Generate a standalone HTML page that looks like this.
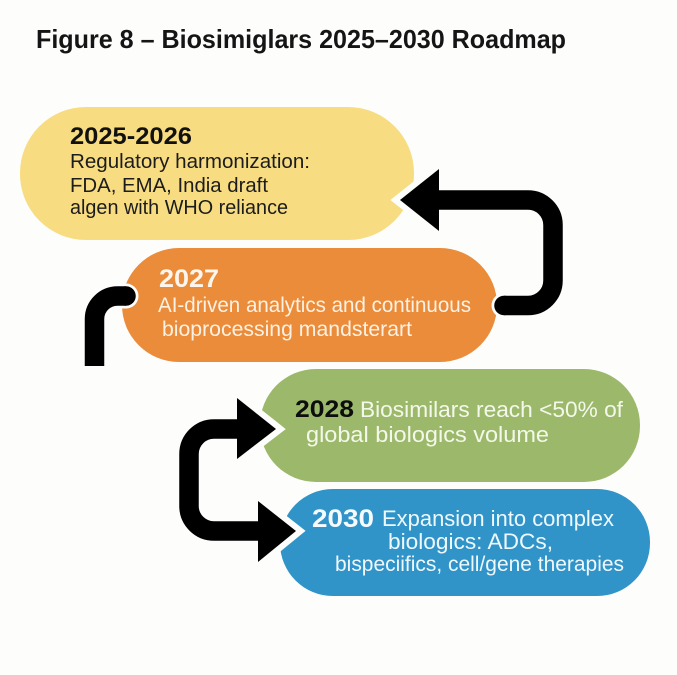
<!DOCTYPE html>
<html>
<head>
<meta charset="utf-8">
<style>
html,body{margin:0;padding:0;background:#fdfdfc;}
svg{display:block;}
text{font-family:"Liberation Sans",sans-serif;}
</style>
</head>
<body>
<svg width="677" height="675" viewBox="0 0 677 675" xmlns="http://www.w3.org/2000/svg">
<rect width="677" height="675" fill="#fdfdfc"/>
<text x="36" y="48" font-size="26" font-weight="700" fill="#151515" textLength="530" lengthAdjust="spacingAndGlyphs">Figure 8 – Biosimiglars 2025–2030 Roadmap</text>

<rect x="20" y="107" width="394" height="133" rx="66" fill="#f7dc82"/>
<rect x="122" y="248" width="375" height="114" rx="57" fill="#ea8c3a"/>
<rect x="260" y="369" width="380" height="113" rx="56" fill="#9cb96b"/>
<rect x="280" y="489" width="370" height="107" rx="53" fill="#3194c8"/>

<!-- halos -->
<g fill="none" stroke="#fdfdfc" stroke-width="25" stroke-linejoin="round">
  <path d="M504 305.500H528A25 25 0 0 0 553 280.500V225A25 25 0 0 0 528 200H430" stroke-linecap="round"/>
  <path d="M94.500 366V319A23 23 0 0 1 117.500 296H126" stroke-linecap="round"/>
  <path d="M240 429H214A25 25 0 0 0 189 454V506A25 25 0 0 0 214 531H262"/>
</g>
<g fill="#fdfdfc" stroke="#fdfdfc" stroke-width="12" stroke-linejoin="miter">
  <path d="M400 200L439 169V231Z"/>
  <path d="M276 429L237 398V459Z"/>
  <path d="M296 531L258 501V562Z"/>
</g>

<!-- connectors -->
<g fill="none" stroke="#000" stroke-width="19.500">
  <path d="M504 305.500H528A25 25 0 0 0 553 280.500V225A25 25 0 0 0 528 200H430"/>
  <path d="M94.500 366V319A23 23 0 0 1 117.500 296H126"/>
  <path d="M240 429H214A25 25 0 0 0 189 454V506A25 25 0 0 0 214 531H262"/>
</g>
<circle cx="504" cy="305.500" r="9.750" fill="#000"/>
<circle cx="126" cy="296" r="9.750" fill="#000"/>
<g fill="#000">
  <path d="M400 200L439 169V231Z"/>
  <path d="M276 429L237 398V459Z"/>
  <path d="M296 531L258 501V562Z"/>
</g>

<!-- yellow -->
<text x="70" y="144" font-size="24" font-weight="700" fill="#111" textLength="122" lengthAdjust="spacingAndGlyphs">2025-2026</text>
<text x="70" y="168" font-size="20.500" fill="#1c1c1c" textLength="240" lengthAdjust="spacingAndGlyphs">Regulatory harmonization:</text>
<text x="70" y="192" font-size="20.500" fill="#1c1c1c" textLength="198" lengthAdjust="spacingAndGlyphs">FDA, EMA, India draft</text>
<text x="70" y="214" font-size="20.500" fill="#1c1c1c" textLength="218" lengthAdjust="spacingAndGlyphs">algen with WHO reliance</text>

<!-- orange -->
<text x="159" y="287" font-size="25" font-weight="700" fill="#fdf6ee" textLength="60" lengthAdjust="spacingAndGlyphs">2027</text>
<text x="158" y="312" font-size="21" fill="#fdf1e4" textLength="313" lengthAdjust="spacingAndGlyphs">AI-driven analytics and continuous</text>
<text x="162" y="336" font-size="21" fill="#fdf1e4" textLength="250" lengthAdjust="spacingAndGlyphs">bioprocessing mandsterart</text>

<!-- green -->
<text x="295" y="417" font-size="24" font-weight="700" fill="#0d0d0d" textLength="59" lengthAdjust="spacingAndGlyphs">2028</text>
<text x="360" y="417" font-size="22" fill="#f4f8ea" textLength="263" lengthAdjust="spacingAndGlyphs">Biosimilars reach &lt;50% of</text>
<text x="306" y="442" font-size="22" fill="#f4f8ea" textLength="243" lengthAdjust="spacingAndGlyphs">global biologics volume</text>

<!-- blue -->
<text x="312" y="527" font-size="25" font-weight="700" fill="#f5fbff" textLength="62" lengthAdjust="spacingAndGlyphs">2030</text>
<text x="382" y="526" font-size="22" fill="#eef8fd" textLength="232" lengthAdjust="spacingAndGlyphs">Expansion into complex</text>
<text x="388" y="549" font-size="22" fill="#eef8fd" textLength="165" lengthAdjust="spacingAndGlyphs">biologics: ADCs,</text>
<text x="335" y="571" font-size="21" fill="#eef8fd" textLength="289" lengthAdjust="spacingAndGlyphs">bispeciifics, cell/gene therapies</text>
</svg>
</body>
</html>
